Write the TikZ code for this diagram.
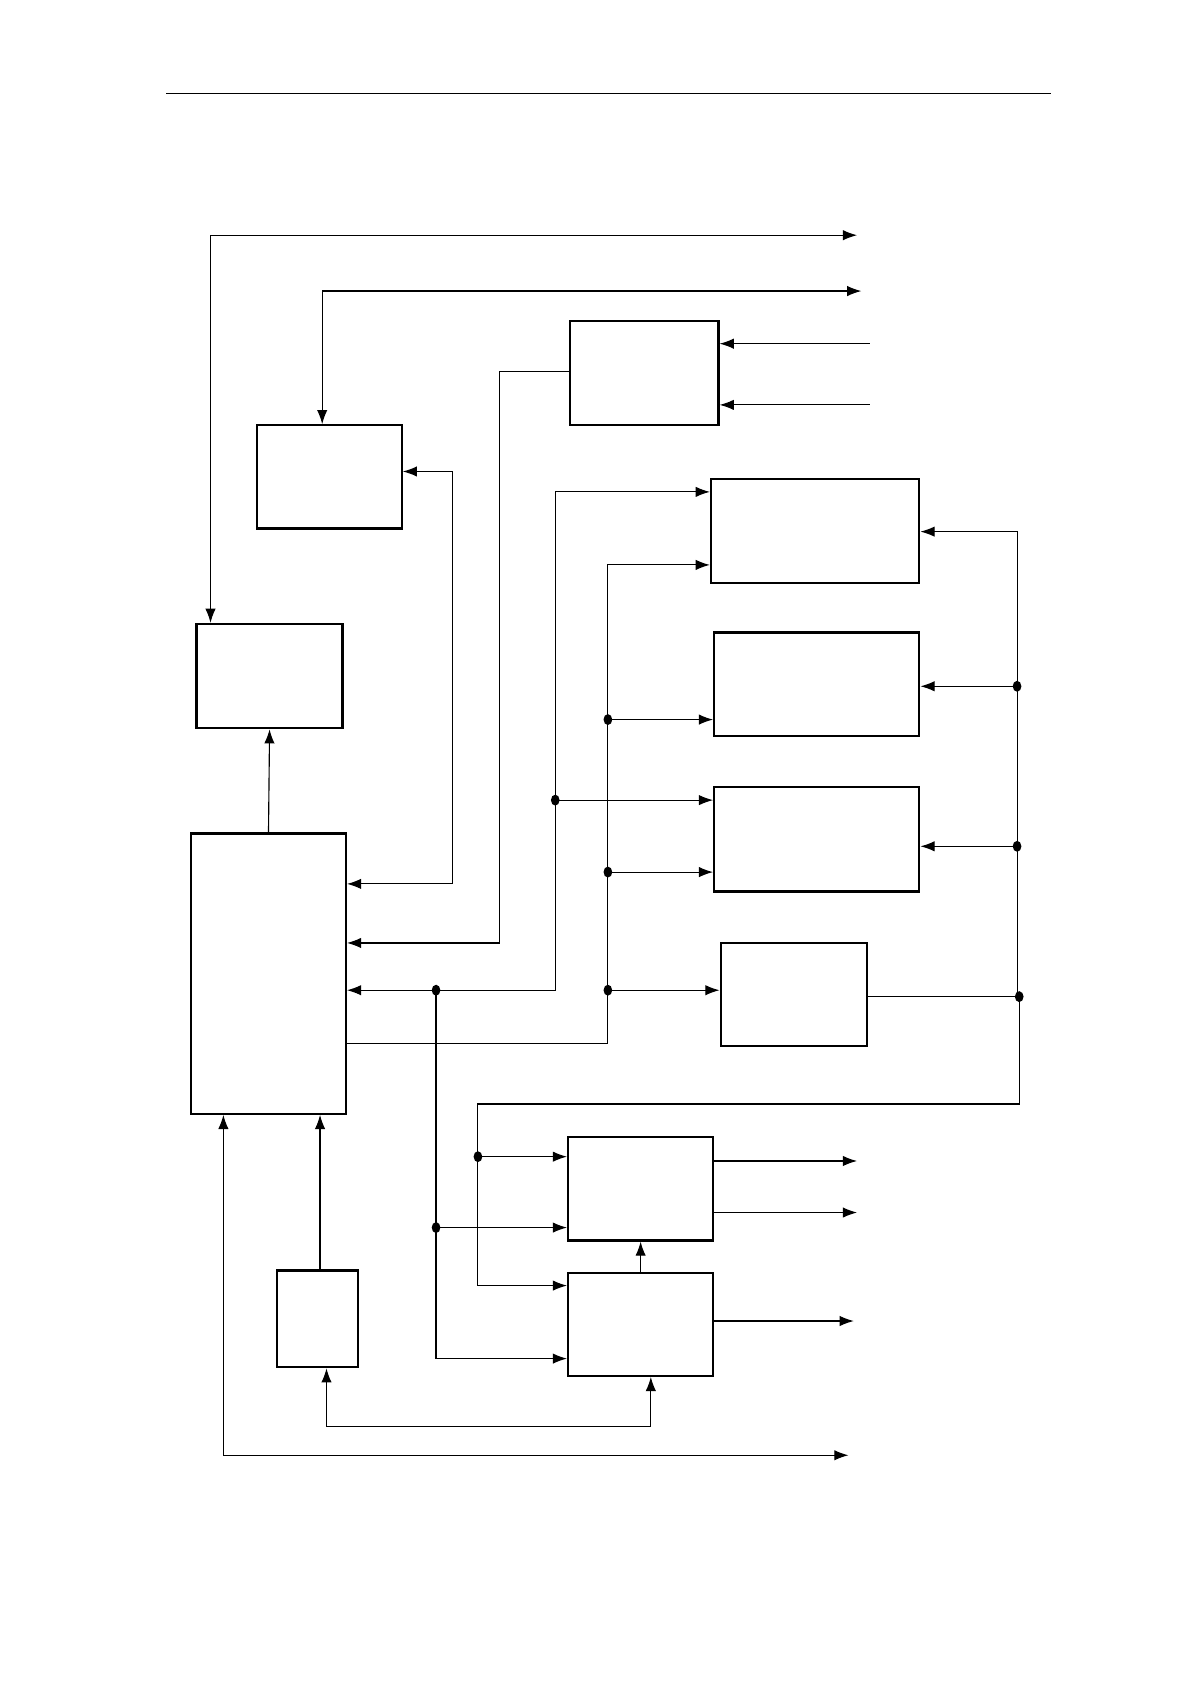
\documentclass[tikz,border=0pt]{standalone}
\usetikzlibrary{arrows.meta,fit}
\begin{document}
\begin{tikzpicture}[x=0.02cm,y=-0.02cm,
  blk/.style={draw,line width=1.2pt,inner sep=0pt},
  ln/.style={line width=0.6pt},
  arr/.style={ln,-{Latex[length=7.5pt,width=5.5pt]}},
  darr/.style={ln,{Latex[length=7.5pt,width=5.5pt]}-{Latex[length=7.5pt,width=5.5pt]}},
  dotmark/.style={fill=black}]
\useasboundingbox (0,0) rectangle (1108,1568);
% header rule
\coordinate (h1) at (155,87); \coordinate (h2) at (979,87);
\draw[line width=0.8pt] (h1) -- (h2);
% boxes
\node[blk,fit={(531,299) (669,396)}] (A) {};
\node[blk,fit={(239,396) (374,492)}] (B) {};
\node[blk,fit={(662,446) (856,543)}] (C) {};
\node[blk,fit={(665,589) (856,685)}] (D) {};
\node[blk,fit={(665,733) (856,830)}] (E) {};
\node[blk,fit={(183,581) (319,678)}] (F) {};
\node[blk,fit={(671,878) (807,974)}] (G) {};
\node[blk,fit={(178,776) (322,1037)}] (H) {};
\node[blk,fit={(529,1059) (664,1155)}] (I) {};
\node[blk,fit={(529,1185) (664,1281)}] (J) {};
\node[blk,fit={(258,1183) (333,1273)}] (K) {};
% top buses
\coordinate (c1) at (196,219); \coordinate (o1) at (798,219);
\draw[darr] (c1 |- F.north) -- (c1) -- (o1);
\coordinate (c2) at (300,271); \coordinate (o2) at (802,271);
\draw[darr] (c2 |- B.north) -- (c2) -- (o2);
% inputs to A
\coordinate (i1) at (810,320); \coordinate (i2) at (810,377);
\draw[arr] (i1) -- (i1 -| A.east);
\draw[arr] (i2) -- (i2 -| A.east);
% A -> H
\coordinate (c3) at (465,346); \coordinate (c3b) at (465,878);
\draw[arr] (A.west |- c3) -- (c3) -- (c3b) -- (c3b -| H.east);
% B <-> H
\coordinate (c4) at (421,439); \coordinate (c4b) at (421,823);
\draw[darr] (c4 -| B.east) -- (c4) -- (c4b) -- (c4b -| H.east);
% bus x=517
\coordinate (c5) at (517,458); \coordinate (j1) at (517,745); \coordinate (c5b) at (519,922);
\coordinate (j2) at (406,922); \coordinate (j3) at (406,1143); \coordinate (c6) at (406,1265);
\draw[arr] (j1) -- (c5) -- (c5 -| C.west);
\draw[arr] (j1) -- (j1 -| E.west);
\draw[arr] (j1) -- (517,922) -- (c5b -| H.east);
\draw[arr] (j2) -- (c6) -- (c6 -| J.west);
\draw[arr] (j3) -- (j3 -| I.west);
% bus x=566
\coordinate (c7) at (566,526); \coordinate (j4) at (566,670); \coordinate (j5) at (566,812);
\coordinate (j6) at (566,922); \coordinate (c7b) at (566,972);
\draw[arr] (H.east |- c7b) -- (c7b) -- (c7) -- (c7 -| C.west);
\draw[arr] (j4) -- (j4 -| D.west);
\draw[arr] (j5) -- (j5 -| E.west);
\draw[arr] (j6) -- (j6 -| G.west);
% right bus x=947
\coordinate (c8) at (947,495); \coordinate (j7) at (947,639); \coordinate (j8) at (947,788);
\coordinate (j9) at (949,928); \coordinate (c8b) at (949,1028); \coordinate (c9) at (445,1028);
\coordinate (j10) at (445,1077); \coordinate (c9b) at (445,1197);
\draw[ln] (G.east |- j9) -- (j9);
\draw[arr] (j9) -- (947,928) -- (c8) -- (c8 -| C.east);
\draw[arr] (j7) -- (j7 -| D.east);
\draw[arr] (j8) -- (j8 -| E.east);
\draw[arr] (j9) -- (c8b) -- (c9) -- (c9b) -- (c9b -| J.west);
\draw[arr] (j10) -- (j10 -| I.west);
% J -> I
\draw[arr] (J.north) -- (I.south);
% outputs
\coordinate (o3) at (798,1081); \coordinate (o4) at (798,1129); \coordinate (o5) at (795,1230);
\draw[arr] (o3 -| I.east) -- (o3);
\draw[arr] (o4 -| I.east) -- (o4);
\draw[arr] (o5 -| J.east) -- (o5);
% K -> H, H -> F
\coordinate (c12) at (298,1183);
\draw[arr] (c12) -- (c12 |- H.south);
\draw[arr] (H.north) -- (F.south);
% K <-> J
\coordinate (c10) at (304,1328); \coordinate (c10b) at (606,1328);
\draw[darr] (c10 |- K.south) -- (c10) -- (c10b) -- (c10b |- J.south);
% bottom bus
\coordinate (c11) at (208,1355); \coordinate (o6) at (790,1355);
\draw[darr] (c11 |- H.south) -- (c11) -- (o6);
% junction dots
\foreach \p in {j1,j2,j3,j4,j5,j6,j7,j8,j9,j10}
  \fill[dotmark] (\p) ellipse (2.3pt and 2.9pt);
\end{tikzpicture}
\end{document}
